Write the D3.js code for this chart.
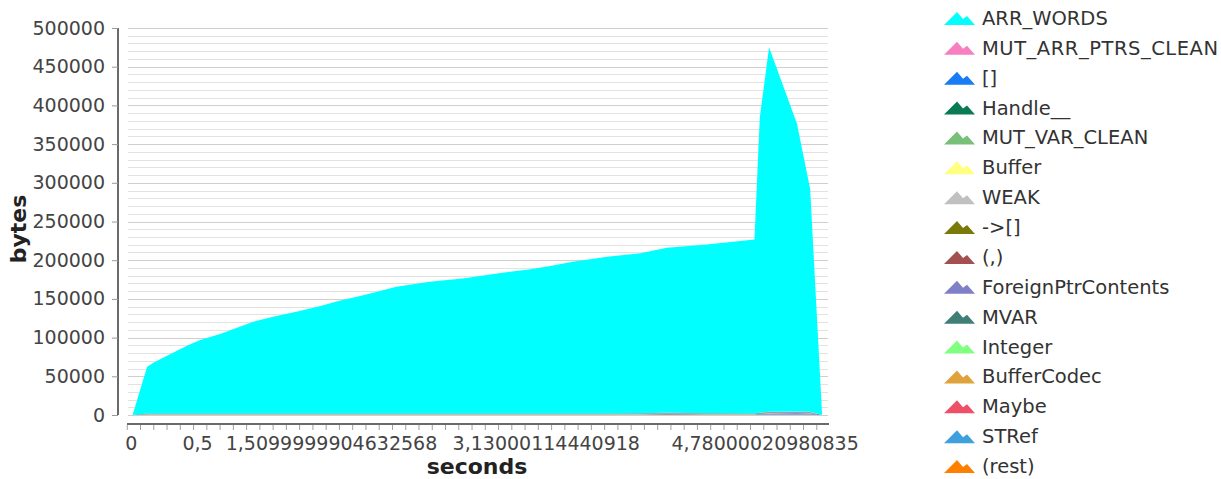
<!DOCTYPE html>
<html>
<head>
<meta charset="utf-8">
<script src="https://cdn.jsdelivr.net/npm/d3@7"></script>
<style>
  html, body { margin: 0; padding: 0; background: #fff; }
  svg { display: block; }
  text { font-family: "DejaVu Sans", Verdana, sans-serif; }
</style>
</head>
<body>
<svg id="chart" width="1221" height="479"></svg>
<script>
// ---------- data ----------
const times = [0.01, 0.12, 0.17, 0.27, 0.42, 0.52, 0.67, 0.92, 1.07, 1.27, 1.42, 1.57, 1.75, 2.00, 2.25,
               2.50, 2.76, 3.01, 3.16, 3.33, 3.59, 3.84, 4.04, 4.34, 4.70, 4.74, 4.81, 5.02, 5.12, 5.21];
const arrWords = [0, 60300, 65900, 74500, 87500, 94700, 102500, 118500, 125000, 132200, 138600, 145500, 152800, 163700, 170200,
                  174400, 180900, 186400, 190500, 196000, 202500, 206700, 213200, 218300, 224800, 381000, 471000, 372000, 288000, 0];
const mutArrPtrsClean = [0, 100, 100, 100, 100, 100, 100, 100, 100, 100, 100, 100, 100, 100, 100,
                         100, 100, 100, 100, 100, 100, 200, 600, 150, 100, 300, 600, 700, 600, 0];
const listNil = [0, 200, 200, 200, 200, 200, 200, 200, 200, 200, 200, 200, 200, 200, 200,
                 200, 200, 200, 200, 200, 200, 200, 200, 200, 200, 300, 400, 400, 300, 0];
const handle = [0, 500, 500, 500, 500, 500, 500, 500, 500, 500, 500, 500, 500, 500, 500,
                500, 500, 500, 500, 500, 500, 500, 500, 500, 500, 500, 500, 500, 500, 0];
const mutVarClean = [0, 100, 100, 100, 100, 100, 100, 100, 100, 100, 100, 100, 100, 100, 100,
                     100, 100, 100, 100, 100, 100, 100, 100, 100, 100, 100, 100, 100, 100, 0];
const buffer = [0, 150, 150, 150, 150, 150, 150, 150, 150, 150, 150, 150, 150, 150, 150,
                150, 150, 150, 150, 150, 150, 150, 150, 150, 150, 150, 150, 150, 150, 0];
const weak = [0, 80, 80, 80, 80, 80, 80, 80, 80, 80, 80, 80, 80, 80, 80,
              80, 80, 80, 80, 80, 80, 80, 80, 80, 80, 80, 80, 80, 80, 0];
const arrowList = [0, 80, 80, 80, 80, 80, 80, 80, 80, 80, 80, 80, 80, 80, 80,
                   80, 80, 80, 80, 80, 80, 80, 80, 80, 80, 80, 80, 80, 80, 0];
const tuple = [0, 100, 100, 100, 100, 100, 100, 100, 100, 100, 100, 100, 100, 100, 100,
               100, 100, 100, 100, 100, 100, 100, 200, 100, 100, 200, 300, 300, 300, 0];
const foreignPtr = [0, 100, 100, 100, 100, 100, 100, 100, 100, 100, 100, 100, 100, 100, 100,
                    100, 100, 100, 100, 100, 100, 100, 100, 100, 100, 700, 1300, 1500, 1300, 0];
const mvar = [0, 300, 300, 300, 300, 300, 300, 300, 300, 300, 300, 300, 300, 300, 300,
              300, 300, 300, 300, 300, 300, 300, 300, 300, 300, 300, 300, 300, 300, 0];
const integer = [0, 50, 50, 50, 50, 50, 50, 50, 50, 50, 50, 50, 50, 50, 50,
                 50, 50, 50, 50, 50, 50, 50, 50, 50, 50, 50, 50, 50, 50, 0];
const bufferCodec = [0, 50, 50, 50, 50, 50, 50, 50, 50, 50, 50, 50, 50, 50, 50,
                     50, 50, 50, 50, 50, 50, 50, 50, 50, 50, 50, 50, 50, 50, 0];
const maybe = [0, 50, 50, 50, 50, 50, 50, 50, 50, 50, 50, 50, 50, 50, 50,
               50, 50, 50, 50, 50, 50, 150, 400, 80, 50, 50, 50, 50, 50, 0];
const stRef = [0, 50, 50, 50, 50, 50, 50, 50, 50, 50, 50, 50, 50, 50, 50,
               50, 50, 50, 50, 50, 50, 50, 50, 50, 50, 50, 50, 50, 50, 0];
const rest = [0, 150, 150, 150, 150, 150, 150, 150, 150, 150, 150, 150, 150, 150, 150,
              150, 150, 150, 150, 150, 150, 150, 150, 150, 150, 150, 150, 150, 150, 0];

const seriesNames = ["ARR_WORDS", "MUT_ARR_PTRS_CLEAN", "[]", "Handle__", "MUT_VAR_CLEAN", "Buffer", "WEAK", "->[]",
                     "(,)", "ForeignPtrContents", "MVAR", "Integer", "BufferCodec", "Maybe", "STRef", "(rest)"];
const seriesValues = [arrWords, mutArrPtrsClean, listNil, handle, mutVarClean, buffer, weak, arrowList,
                      tuple, foreignPtr, mvar, integer, bufferCodec, maybe, stRef, rest];
const seriesColors = ["#00ffff", "#f77fbf", "#1a7cf5", "#0a7a55", "#78bf78", "#ffff80", "#c0c0c0", "#7a7a0a",
                      "#a55050", "#8080c8", "#3f7f78", "#80ff80", "#e0a33c", "#ee5068", "#3fa0dc", "#ff8000"];

const yTickValues = [0, 50000, 100000, 150000, 200000, 250000, 300000, 350000, 400000, 450000, 500000];
const xTickLabels = ["0", "0,5", "1,5099999904632568", "3,13000114440918", "4,78000020980835"];

// ---------- layout ----------
const svg = d3.select("#chart");
const x = d3.scaleLinear().domain([-0.032, 5.262]).range([127, 829]);
const y = d3.scaleLinear().domain([0, 500000]).range([415, 28]);

// table for stacking
const table = times.map((t, i) => {
  const row = { t };
  seriesNames.forEach((n, k) => { row[n] = seriesValues[k][i]; });
  return row;
});
const stackKeys = seriesNames.slice().reverse();
const stacked = d3.stack().keys(stackKeys)(table);

// grid lines (minor every 10000, major every 50000)
const gridVals = d3.range(0, 500001, 10000);
svg.append("g").selectAll("line").data(gridVals).join("line")
  .attr("x1", 128).attr("x2", 828)
  .attr("y1", d => Math.round(y(d)) + 0.5).attr("y2", d => Math.round(y(d)) + 0.5)
  .attr("stroke", d => d % 50000 === 0 ? "#cfcfcf" : "#e2e2e2")
  .attr("stroke-width", 1.2);

// stacked areas
const area = d3.area()
  .x(d => x(d.data.t))
  .y0(d => y(d[0]))
  .y1(d => y(d[1]));
svg.append("g").selectAll("path").data(stacked).join("path")
  .attr("d", area)
  .attr("fill", d => seriesColors[seriesNames.indexOf(d.key)]);

// y axis
const yAxis = d3.axisLeft(y).tickValues(yTickValues).tickSize(6).tickPadding(7).tickFormat(d3.format("d"));
const gy = svg.append("g").attr("transform", "translate(118,0)").call(yAxis);
gy.select(".domain").attr("stroke", "#6a6a6a").attr("stroke-width", 2).attr("d", "M0,28V415");
gy.selectAll(".tick line").attr("stroke", "#9a9a9a");
gy.selectAll(".tick text").attr("font-size", 19).attr("fill", "#444").attr("font-family", "DejaVu Sans");

// x axis: minor ticks + labels
const gx = svg.append("g").attr("transform", "translate(0,424)");
gx.append("line").attr("x1", 127).attr("x2", 829).attr("y1", 0).attr("y2", 0)
  .attr("stroke", "#6a6a6a").attr("stroke-width", 2);
const minorTicks = d3.range(0, 53).map(k => -0.03 + k * 0.1);
gx.selectAll("line.minor").data(minorTicks).join("line").attr("class", "minor")
  .attr("x1", d => x(d)).attr("x2", d => x(d)).attr("y1", 1).attr("y2", 6)
  .attr("stroke", "#a0a0a0").attr("stroke-width", 1);
gx.selectAll("text").data(xTickLabels).join("text")
  .attr("x", d => x(+d.replace(",", ".")))
  .attr("y", 26)
  .attr("text-anchor", "middle")
  .attr("font-size", 19).attr("fill", "#444")
  .text(d => d);

// axis titles
svg.append("text").attr("x", 477).attr("y", 474).attr("text-anchor", "middle")
  .attr("font-size", 22).attr("font-weight", "bold").attr("fill", "#222").text("seconds");
svg.append("text").attr("transform", "translate(26,229) rotate(-90)").attr("text-anchor", "middle")
  .attr("font-size", 22).attr("font-weight", "bold").attr("fill", "#222").text("bytes");

// legend
const leg = svg.append("g");
const rowH = 29.87;
const rows = leg.selectAll("g").data(seriesNames).join("g")
  .attr("transform", (d, i) => `translate(944,${18 + i * rowH})`);
rows.append("path")
  .attr("d", "M0,7 L13,-6 L19,1 L23,-2 L31,7 Z")
  .attr("fill", (d, i) => seriesColors[i]);
rows.append("text").attr("x", 38).attr("y", 7)
  .attr("font-size", 19.5).attr("fill", "#333")
  .attr("textLength", d => d === "MUT_ARR_PTRS_CLEAN" ? 236 : null)
  .text(d => d);
</script>
</body>
</html>
